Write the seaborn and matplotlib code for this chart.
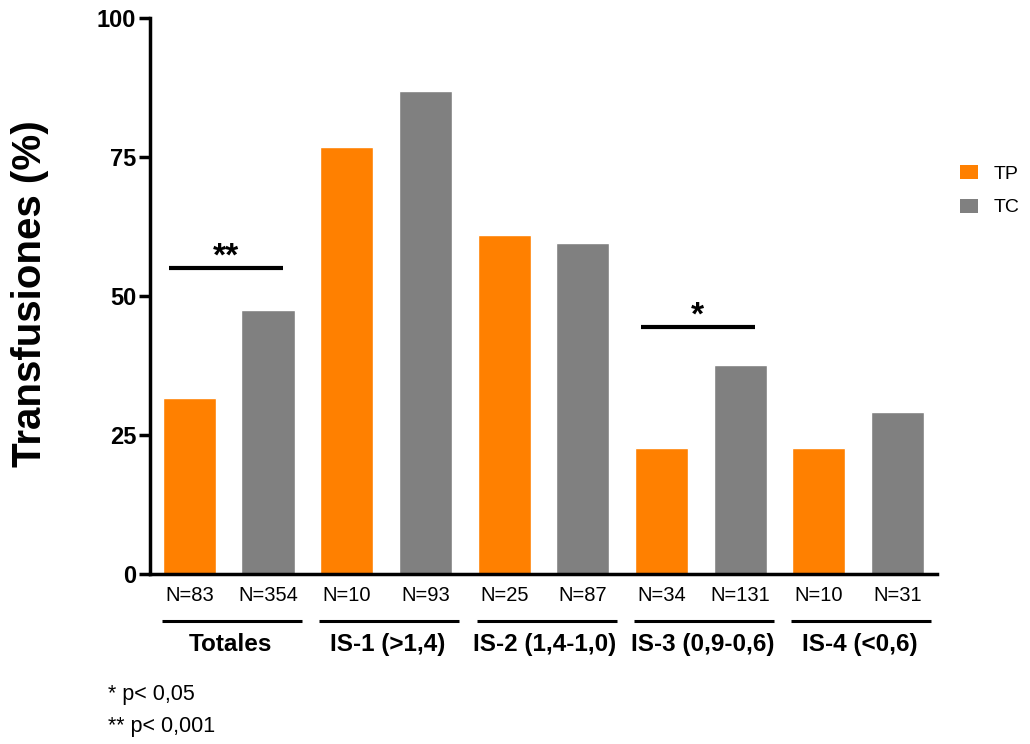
import matplotlib
matplotlib.use("Agg")
import matplotlib.pyplot as plt
import matplotlib.transforms as mtransforms
from matplotlib.patches import Patch
import seaborn as sns
import pandas as pd

groups = ["Totales", "IS-1 (>1,4)", "IS-2 (1,4-1,0)", "IS-3 (0,9-0,6)", "IS-4 (<0,6)"]
tp_values = [31.7, 76.8, 61.0, 22.7, 22.7]
tc_values = [47.5, 86.9, 59.6, 37.6, 29.2]
tp_n = ["N=83", "N=10", "N=25", "N=34", "N=10"]
tc_n = ["N=354", "N=93", "N=87", "N=131", "N=31"]
series = ["TP", "TC"]
colors = {"TP": "#FF8000", "TC": "#808080"}
sig = [("Totales", "**", 55.0), ("IS-3 (0,9-0,6)", "*", 44.4)]

rows = []
for g, tp, tc, ntp, ntc in zip(groups, tp_values, tc_values, tp_n, tc_n):
    rows.append({"key": g + "|TP", "grupo": g, "serie": "TP", "valor": tp, "n": ntp})
    rows.append({"key": g + "|TC", "grupo": g, "serie": "TC", "valor": tc, "n": ntc})
df = pd.DataFrame(rows)

sns.set_style("ticks")
plt.rcParams["font.family"] = ["Liberation Sans", "DejaVu Sans"]
plt.rcParams.update({
    "text.color": "black", "axes.labelcolor": "black", "axes.edgecolor": "black",
    "xtick.color": "black", "ytick.color": "black",
    "xtick.labelcolor": "black", "ytick.labelcolor": "black",
})

fig = plt.figure(figsize=(10.3, 7.44), dpi=100)
ax = fig.add_axes([0.1456, 0.2285, 0.7641, 0.7473])

sns.barplot(data=df, x="key", y="valor", hue="serie", palette=colors, dodge=False,
            width=0.675, ax=ax, legend=False, saturation=1, order=list(df["key"]))

ax.set_xlim(-0.5, len(df) - 0.5)
ax.set_ylim(0, 100)
ax.set_yticks([0, 25, 50, 75, 100])
ax.set_yticklabels(["0", "25", "50", "75", "100"], fontsize=17, fontweight="bold")
ax.set_xticks(range(len(df)))
ax.set_xticklabels(df["n"], fontsize=14.5)
ax.tick_params(axis="x", length=0, pad=9, colors="black")
ax.tick_params(axis="y", length=8, width=2.5, pad=2, colors="black")
ax.set_xlabel("")
ax.set_ylabel("Transfusiones (%)", fontsize=29, fontweight="bold", color="black")
ax.yaxis.set_label_coords(-0.128, 0.504)
for s in ["top", "right"]:
    ax.spines[s].set_visible(False)
for s in ["left", "bottom"]:
    ax.spines[s].set_linewidth(2.5)
    ax.spines[s].set_color("black")

trans = mtransforms.blended_transform_factory(ax.transData, ax.transAxes)
for i, g in enumerate(groups):
    p = 2 * i
    ax.plot([p - 0.35, p + 1.43], [-0.0845, -0.0845], transform=trans, color="black",
            lw=2.2, clip_on=False, solid_capstyle="butt")
    ax.text(p + 0.52, -0.126, g, transform=trans, ha="center", va="center",
            fontsize=17.5, fontweight="bold", color="black")

for g, label, yv in sig:
    p = 2 * groups.index(g)
    ax.plot([p - 0.26, p + 1.19], [yv, yv], color="black", lw=3, solid_capstyle="butt")
    ax.text(p + 0.46, yv + 0.4, label, ha="center", va="baseline", fontsize=24,
            fontweight="bold", color="black")

handles = [Patch(facecolor=colors[s], edgecolor="none", label=s) for s in series]
fig.legend(handles=handles, loc="upper left", bbox_to_anchor=(0.932, 0.778), frameon=False,
           fontsize=14, handlelength=0.93, handleheight=0.72, labelspacing=0.81,
           handletextpad=0.8, borderpad=0, borderaxespad=0, labelcolor="black")

fig.text(0.105, 0.067, "* p< 0,05", fontsize=15.5, va="center", color="black")
fig.text(0.105, 0.023, "** p< 0,001", fontsize=15.5, va="center", color="black")

fig.savefig("out.png", dpi=100)
